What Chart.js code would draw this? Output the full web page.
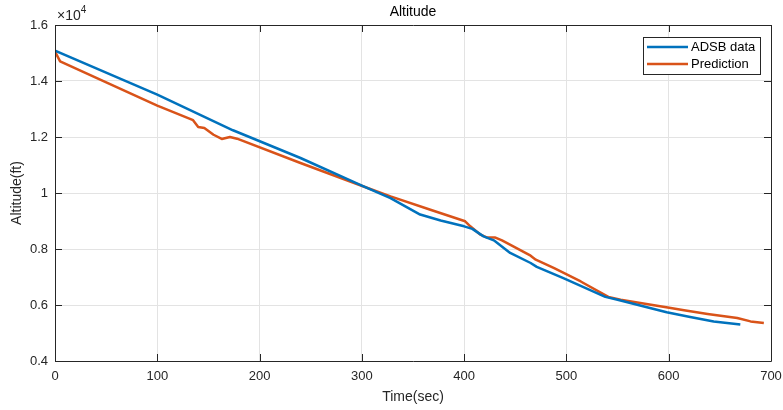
<!DOCTYPE html>
<html>
<head>
<meta charset="utf-8">
<script src="https://cdn.jsdelivr.net/npm/chart.js@4.4.1/dist/chart.umd.min.js"></script>
<style>
  html, body { margin: 0; padding: 0; background: #fff; }
  #wrap { width: 783px; height: 410px; }
</style>
</head>
<body>
<div id="wrap"><canvas id="chart" width="783" height="410"></canvas></div>
<script>
// values (time in seconds, altitude in ft)
const adsbTime = [0, 100, 174, 240, 300, 328, 357, 377, 400, 408, 419, 429, 445, 465, 471, 497, 538, 550, 598, 621, 644, 670];
const adsbAlt = [15080, 13510, 12240, 11250, 10260, 9820, 9230, 9020, 8810, 8720, 8450, 8310, 7860, 7500, 7360, 6960, 6290, 6190, 5740, 5570, 5410, 5300];

const predTime = [0, 5, 100, 135, 140, 146, 155, 163, 171, 178, 240, 301, 328, 367, 401, 406, 416, 422, 430, 437, 465, 470, 488, 514, 541, 553, 602, 615, 638, 667, 680, 693];
const predAlt = [15050, 14700, 13120, 12600, 12360, 12320, 12080, 11930, 12000, 11940, 11070, 10240, 9880, 9400, 8990, 8810, 8510, 8415, 8415, 8307, 7760, 7620, 7320, 6840, 6290, 6190, 5890, 5810, 5680, 5536, 5414, 5357];

const xTicks = [0, 100, 200, 300, 400, 500, 600, 700];
const yTicks = [4000, 6000, 8000, 10000, 12000, 14000, 16000];

const seriesNames = ['ADSB data', 'Prediction'];
const seriesColors = ['#0072BD', '#D95319'];

const FONT = 'Liberation Sans, Arial, Helvetica, sans-serif';
const AX = '#262626';

const toPoints = (xs, ys) => xs.map((x, i) => ({ x: x, y: ys[i] }));

// draws the matlab-ish frame, inward ticks, titles, exponent and legend
const frame = {
  id: 'frame',
  afterDraw(chart) {
    const ctx = chart.ctx;
    const a = chart.chartArea;
    const xs = chart.scales.x;
    const ys = chart.scales.y;
    const tl = 7;
    ctx.save();
    ctx.strokeStyle = AX;
    ctx.lineWidth = 1;
    ctx.beginPath();
    ctx.rect(Math.round(a.left) + 0.5, Math.round(a.top) + 0.5, Math.round(a.right - a.left), Math.round(a.bottom - a.top));
    ctx.stroke();

    ctx.beginPath();
    xTicks.forEach(t => {
      const px = Math.round(xs.getPixelForValue(t)) + 0.5;
      ctx.moveTo(px, a.bottom); ctx.lineTo(px, a.bottom - tl);
      ctx.moveTo(px, a.top); ctx.lineTo(px, a.top + tl);
    });
    yTicks.forEach(t => {
      const py = Math.round(ys.getPixelForValue(t)) + 0.5;
      ctx.moveTo(a.left, py); ctx.lineTo(a.left + tl, py);
      ctx.moveTo(a.right, py); ctx.lineTo(a.right - tl, py);
    });
    ctx.stroke();

    // title
    ctx.fillStyle = '#000';
    ctx.font = '14px ' + FONT;
    ctx.textAlign = 'center';
    ctx.textBaseline = 'middle';
    ctx.fillText('Altitude', (a.left + a.right) / 2, 12);

    // axis titles
    ctx.fillStyle = AX;
    ctx.fillText('Time(sec)', (a.left + a.right) / 2, 397);
    ctx.save();
    ctx.translate(17, (a.top + a.bottom) / 2);
    ctx.rotate(-Math.PI / 2);
    ctx.fillText('Altitude(ft)', 0, 0);
    ctx.restore();

    // exponent label
    ctx.textAlign = 'left';
    ctx.textBaseline = 'alphabetic';
    ctx.font = '14px ' + FONT;
    ctx.fillText('\u00d710', a.left + 2, 20);
    const w = ctx.measureText('\u00d710').width;
    ctx.font = '10px ' + FONT;
    ctx.fillText('4', a.left + 2 + w, 13);

    // legend
    const lx = 643, ly = 37, lw = 117, lh = 37;
    ctx.fillStyle = '#fff';
    ctx.fillRect(lx, ly, lw, lh);
    ctx.strokeStyle = AX;
    ctx.strokeRect(lx + 0.5, ly + 0.5, lw, lh);
    ctx.font = '13px ' + FONT;
    ctx.textBaseline = 'middle';
    seriesNames.forEach((name, i) => {
      const y = ly + 10 + i * 17;
      ctx.strokeStyle = seriesColors[i];
      ctx.lineWidth = 2.5;
      ctx.beginPath();
      ctx.moveTo(lx + 4, y); ctx.lineTo(lx + 45, y);
      ctx.stroke();
      ctx.fillStyle = '#000';
      ctx.fillText(name, lx + 48, y + 0.5);
    });
    ctx.restore();
  }
};

new Chart(document.getElementById('chart'), {
  type: 'line',
  data: {
    datasets: [
      { label: seriesNames[0], data: toPoints(adsbTime, adsbAlt) },
      { label: seriesNames[1], data: toPoints(predTime, predAlt) }
    ].map((d, i) => Object.assign(d, {
      borderColor: seriesColors[i],
      backgroundColor: seriesColors[i],
      borderWidth: 2.5,
      pointRadius: 0,
      tension: 0,
      borderJoinStyle: 'round',
      fill: false
    }))
  },
  options: {
    responsive: false,
    animation: false,
    layout: { padding: { top: 25, right: 12, left: 0, bottom: 0 } },
    plugins: { legend: { display: false }, tooltip: { enabled: false }, title: { display: false } },
    scales: {
      x: {
        type: 'linear',
        min: 0, max: 700,
        afterFit: s => { s.height = 49; s.paddingRight = 0; s.paddingLeft = 0; },
        afterBuildTicks: s => { s.ticks = xTicks.map(v => ({ value: v })); },
        grid: { color: '#e3e3e3', drawTicks: false },
        border: { display: false },
        ticks: { color: AX, padding: 8, font: { family: FONT, size: 13 }, maxRotation: 0 }
      },
      y: {
        type: 'linear',
        min: 4000, max: 16000,
        afterFit: s => { s.width = 55; s.paddingTop = 0; s.paddingBottom = 0; },
        afterBuildTicks: s => { s.ticks = yTicks.map(v => ({ value: v })); },
        grid: { color: '#e3e3e3', drawTicks: false },
        border: { display: false },
        ticks: {
          color: AX, padding: 7, font: { family: FONT, size: 13 },
          callback: v => String(+(v / 10000).toFixed(1))
        }
      }
    }
  },
  plugins: [frame]
});
</script>
</body>
</html>
